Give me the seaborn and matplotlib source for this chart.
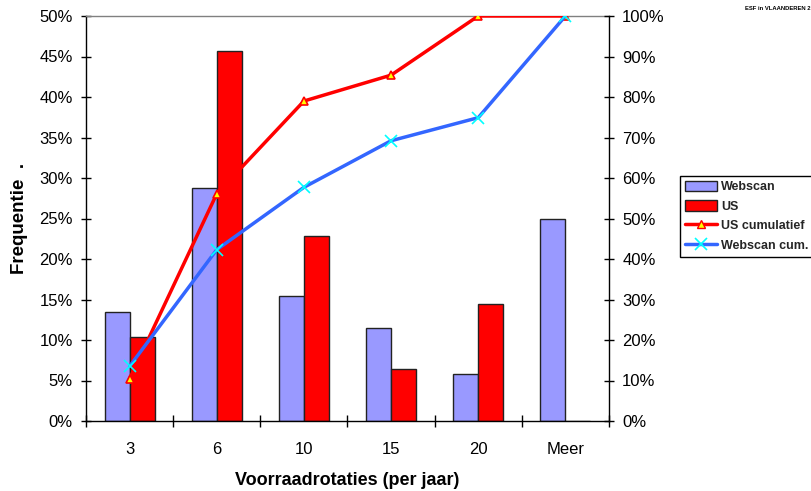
import numpy as np
import pandas as pd
import matplotlib
matplotlib.use("Agg")
import matplotlib.pyplot as plt
import seaborn as sns
from matplotlib.ticker import PercentFormatter
from matplotlib.lines import Line2D
from matplotlib.patches import Patch

# ---- data ----
categories = ["3", "6", "10", "15", "20", "Meer"]
webscan = [13.4, 28.8, 15.4, 11.5, 5.8, 25.0]
us = [10.4, 45.7, 22.9, 6.4, 14.5, 0.0]
us_cum = [10.4, 56.1, 79.0, 85.4, 100.0, 100.0]
webscan_cum = [13.5, 42.3, 57.7, 69.2, 74.9, 100.0]
left_ticks = [0, 5, 10, 15, 20, 25, 30, 35, 40, 45, 50]
right_ticks = [0, 10, 20, 30, 40, 50, 60, 70, 80, 90, 100]

WEB_COL = "#9999FF"
US_COL = "#FF0000"
CUM_US_COL = "#FF0000"
CUM_WEB_COL = "#3366FF"

sns.set_theme(style="white")
plt.rcParams['font.family'] = ['Liberation Sans', 'DejaVu Sans']

W, H = 812, 491
fig = plt.figure(figsize=(W / 100, H / 100), dpi=100)
ax = fig.add_axes([86 / W, 1 - 421 / H, (609 - 86) / W, (421 - 16) / H])

df = pd.DataFrame({
    "cat": categories * 2,
    "serie": ["Webscan"] * len(categories) + ["US"] * len(categories),
    "val": webscan + us,
})
sns.barplot(data=df, x="cat", y="val", hue="serie",
            hue_order=["Webscan", "US"],
            palette={"Webscan": WEB_COL, "US": US_COL},
            width=0.572, saturation=1, edgecolor="#222222", linewidth=1,
            ax=ax, legend=False, errorbar=None)

ax.set_xlim(-0.5, len(categories) - 0.5)
ax.set_ylim(0, 50)
ax.set_yticks(left_ticks)
ax.yaxis.set_major_formatter(PercentFormatter(xmax=100, decimals=0))

ax.set_xticks(range(len(categories)))
ax.set_xticklabels(categories)
ax.set_xticks(np.arange(-0.5, len(categories), 1), minor=True)
ax.tick_params(axis='x', which='major', length=0, pad=15, labelsize=12, colors='black')
ax.tick_params(axis='x', which='minor', bottom=True, direction='inout', length=9, width=1, color='black')
ax.tick_params(axis='y', left=True, direction='inout', length=7, width=1, color='black',
               pad=6, labelsize=12, labelcolor='black')

for s in ['left', 'bottom']:
    ax.spines[s].set_color('black')
    ax.spines[s].set_linewidth(1)
ax.spines['top'].set_color('#808080')
ax.spines['top'].set_linewidth(1)
ax.spines['right'].set_visible(False)

ax.set_xlabel("Voorraadrotaties (per jaar)", fontsize=13, fontweight='bold', labelpad=11, color='black')
ax.set_ylabel("Frequentie  .", fontsize=13.5, fontweight='bold', labelpad=8, color='black')

# ---- cumulative lines on secondary axis ----
ax2 = ax.twinx()
xpos = np.arange(len(categories))
sns.lineplot(x=xpos, y=us_cum, ax=ax2, color=CUM_US_COL, linewidth=2.5,
             marker="^", markersize=6, markerfacecolor="#FFFF00",
             markeredgecolor=CUM_US_COL, markeredgewidth=1.2)
sns.lineplot(x=xpos, y=webscan_cum, ax=ax2, color=CUM_WEB_COL, linewidth=2.5,
             marker="x", markersize=9, markeredgecolor="#00FFFF", markeredgewidth=1.2)
ax2.set_ylim(0, 100)
ax2.set_yticks(right_ticks)
ax2.yaxis.set_major_formatter(PercentFormatter(xmax=100, decimals=0))
ax2.tick_params(axis='y', right=True, direction='inout', length=7, width=1, color='black',
                pad=6, labelsize=12, labelcolor='black')
for s in ['left', 'top', 'bottom']:
    ax2.spines[s].set_visible(False)
ax2.spines['right'].set_color('black')
ax2.spines['right'].set_linewidth(1)
ax2.set_ylabel("")
ax2.set_xlim(-0.5, len(categories) - 0.5)

# ---- legend ----
handles = [
    Patch(facecolor=WEB_COL, edgecolor="#222222", linewidth=1, label="Webscan"),
    Patch(facecolor=US_COL, edgecolor="#222222", linewidth=1, label="US"),
    Line2D([0], [0], color=CUM_US_COL, lw=2.5, marker="^", markersize=6,
           markerfacecolor="#FFFF00", markeredgecolor=CUM_US_COL, label="US cumulatief"),
    Line2D([0], [0], color=CUM_WEB_COL, lw=2.5, marker="x", markersize=9,
           markeredgecolor="#00FFFF", markeredgewidth=1.2, label="Webscan cum."),
]
leg = fig.legend(handles=handles, loc='upper left', bbox_to_anchor=(680 / W, 1 - 176 / H),
                 frameon=True, fancybox=False, framealpha=1, edgecolor='black',
                 prop={'weight': 'bold', 'size': 9}, handlelength=2.6,
                 handleheight=0.9, labelspacing=0.55, borderpad=0.4,
                 handletextpad=0.3, borderaxespad=0)
leg.get_frame().set_linewidth(1)

fig.text(811 / W, 1 - 8 / H, "ESF in VLAANDEREN 2", fontsize=4.2, fontweight='bold',
         va='center', ha='right', color='black')

fig.savefig("out.png", dpi=100)
